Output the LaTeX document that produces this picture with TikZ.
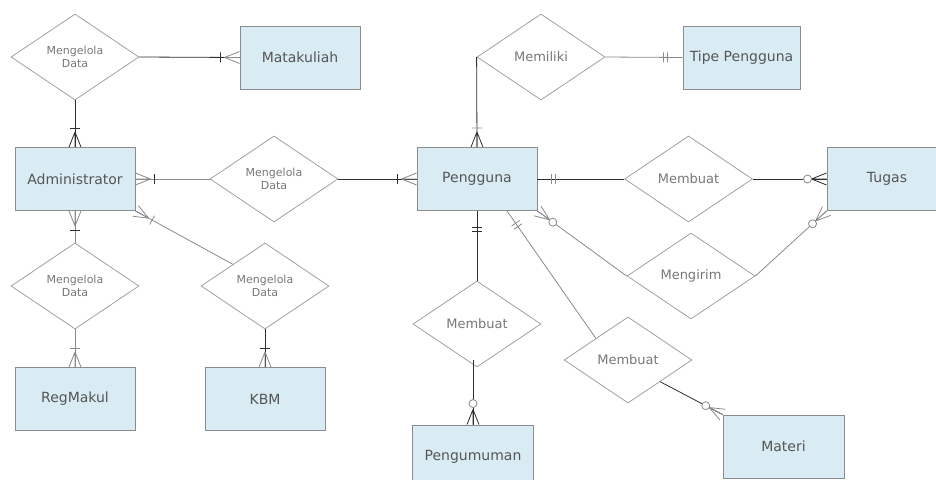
\documentclass[tikz,border=0pt]{standalone}
\usepackage{fontspec}
\setmainfont{DejaVu Sans}
\usetikzlibrary{shapes.geometric,calc}
\definecolor{entfill}{HTML}{DAECF3}
\definecolor{entdraw}{HTML}{8C8C8C}
\definecolor{reldraw}{HTML}{A0A0A0}
\definecolor{enttext}{HTML}{555555}
\definecolor{reltext}{HTML}{777777}
\definecolor{lgray}{HTML}{8A8A8A}
\definecolor{ldark}{HTML}{2E2E2E}
\tikzset{
  entity/.style={rectangle, draw=entdraw, fill=entfill, line width=0.9pt,
    minimum width=120pt, minimum height=63pt, inner sep=0pt, text=enttext,
    font=\fontsize{14}{16}\selectfont},
  rel/.style={diamond, draw=reldraw, line width=0.8pt, minimum width=128pt,
    minimum height=86pt, inner sep=0pt, text=reltext, align=center,
    font=\fontsize{13}{15}\selectfont},
  relsmall/.style={rel, font=\fontsize{11}{13}\selectfont},
  conn/.style={draw=lgray, line width=0.8pt},
  connd/.style={draw=ldark, line width=0.8pt},
}
% crow's foot: style, entity end, other end
\newcommand\erfoot[3]{%
  \draw[#1] ($(#2)!15pt!(#3)$) -- (#2)
    ($(#2)!15pt!(#3)$) -- ($(#2)!6pt!90:(#3)$)
    ($(#2)!15pt!(#3)$) -- ($(#2)!6pt!-90:(#3)$);}
% bar: style, entity end, other end, distance
\newcommand\erbar[4]{%
  \draw[#1] ($(#2)!#4!(#3)!5pt!90:(#3)$) -- ($(#2)!#4!(#3)!5pt!-90:(#3)$);}
% ring: style, entity end, other end, distance
\newcommand\erring[4]{%
  \draw[#1, fill=white] ($(#2)!#4!(#3)$) circle[radius=4pt];}
\begin{document}
\begin{tikzpicture}[x=1pt, y=-1pt]
\useasboundingbox (0,0) rectangle (936,479);
% entities
\node[entity] (mk) at (300,57.5) {Matakuliah};
\node[entity] (adm) at (75,179) {Administrator};
\node[entity] (rm) at (75,399) {RegMakul};
\node[entity] (kbm) at (265,399) {KBM};
\node[entity, minimum width=117pt] (tp) at (741.5,57.5) {Tipe Pengguna};
\node[entity] (pg) at (477,179) {Pengguna};
\node[entity] (tg) at (887,179) {Tugas};
\node[entity, minimum width=121pt] (pm) at (473,456.5) {Pengumuman};
\node[entity, minimum width=121pt] (mt) at (783.5,446.5) {Materi};
% relationships
\node[relsmall] (r1) at (75,57) {Mengelola\\Data};
\node[relsmall] (r2) at (274,179) {Mengelola\\Data};
\node[relsmall] (r3) at (75,286) {Mengelola\\Data};
\node[relsmall] (r4) at (265,286) {Mengelola\\Data};
\node[rel] (r5) at (541,57) {Memiliki};
\node[rel] (r6) at (688.5,179) {Membuat};
\node[rel] (r7) at (691,276) {Mengirim};
\node[rel] (r8) at (477,324) {Membuat};
\node[rel] (r9) at (628,360) {Membuat};
% helper coordinates
\coordinate (pmtop) at (pm.north |- r8.south);
\coordinate (pgs2) at ($(pg.south)+(30,0)$);
% 1 R1 - Administrator
\draw[connd] (r1.south) -- (adm.north);
\erfoot{connd}{adm.north}{r1.south}
\erbar{connd}{adm.north}{r1.south}{19pt}
% 2 R1 - Matakuliah
\draw[connd] (r1.east) -- (mk.west);
\erfoot{conn}{mk.west}{r1.east}
\erbar{connd}{mk.west}{r1.east}{19pt}
% 3 Administrator - R2
\draw[conn] (adm.east) -- (r2.west);
\erfoot{conn}{adm.east}{r2.west}
\erbar{connd}{adm.east}{r2.west}{19pt}
% 4 R2 - Pengguna
\draw[connd] (r2.east) -- (pg.west);
\erfoot{conn}{pg.west}{r2.east}
\erbar{connd}{pg.west}{r2.east}{19pt}
% 5 Administrator - R3
\draw[conn] (adm.south) -- (r3.north);
\erfoot{conn}{adm.south}{r3.north}
\erbar{connd}{adm.south}{r3.north}{19pt}
% 6 R3 - RegMakul
\draw[conn] (r3.south) -- (rm.north);
\erfoot{conn}{rm.north}{r3.south}
\erbar{conn}{rm.north}{r3.south}{19pt}
% 7 Administrator - R4
\draw[conn] (adm.south east) -- (r4.north west);
\erfoot{conn}{adm.south east}{r4.north west}
\erbar{conn}{adm.south east}{r4.north west}{19pt}
% 8 R4 - KBM
\draw[connd] (r4.south) -- (kbm.north);
\erfoot{conn}{kbm.north}{r4.south}
\erbar{connd}{kbm.north}{r4.south}{19pt}
% 9 Pengguna - R5
\draw[connd] (pg.north) -- (r5.west);
\erfoot{connd}{pg.north}{r5.west}
\erbar{conn}{pg.north}{r5.west}{19pt}
% 10 R5 - Tipe Pengguna
\draw[conn] (r5.east) -- (tp.west);
\erbar{conn}{tp.west}{r5.east}{15pt}
\erbar{conn}{tp.west}{r5.east}{19pt}
% 11 Pengguna - R6
\draw[connd] (pg.east) -- (r6.west);
\erbar{conn}{pg.east}{r6.west}{14pt}
\erbar{conn}{pg.east}{r6.west}{18pt}
% 12 R6 - Tugas
\draw[connd] (r6.east) -- (tg.west);
\erfoot{connd}{tg.west}{r6.east}
\erring{conn}{tg.west}{r6.east}{19pt}
% 13 Pengguna - R7
\draw[conn] (pg.south east) -- (r7.west);
\erfoot{conn}{pg.south east}{r7.west}
\erring{conn}{pg.south east}{r7.west}{19pt}
% 14 R7 - Tugas
\draw[conn] (r7.east) -- (tg.south west);
\erfoot{conn}{tg.south west}{r7.east}
\erring{conn}{tg.south west}{r7.east}{19pt}
% 15 Pengguna - R8
\draw[connd] (pg.south) -- (r8.north);
\erbar{connd}{pg.south}{r8.north}{16pt}
\erbar{connd}{pg.south}{r8.north}{20pt}
% 16 R8 - Pengumuman
\draw[connd, shorten >=-7pt] (pm.north) -- (pmtop);
\erfoot{connd}{pm.north}{pmtop}
\erring{conn}{pm.north}{pmtop}{21pt}
% 17 Pengguna - R9
\draw[conn] (pgs2) -- (r9.north west);
\erbar{conn}{pgs2}{r9.north west}{15pt}
\erbar{conn}{pgs2}{r9.north west}{19pt}
% 18 R9 - Materi
\draw[connd] (r9.south east) -- (mt.north west);
\erfoot{conn}{mt.north west}{r9.south east}
\erring{conn}{mt.north west}{r9.south east}{19pt}
\end{tikzpicture}
\end{document}
